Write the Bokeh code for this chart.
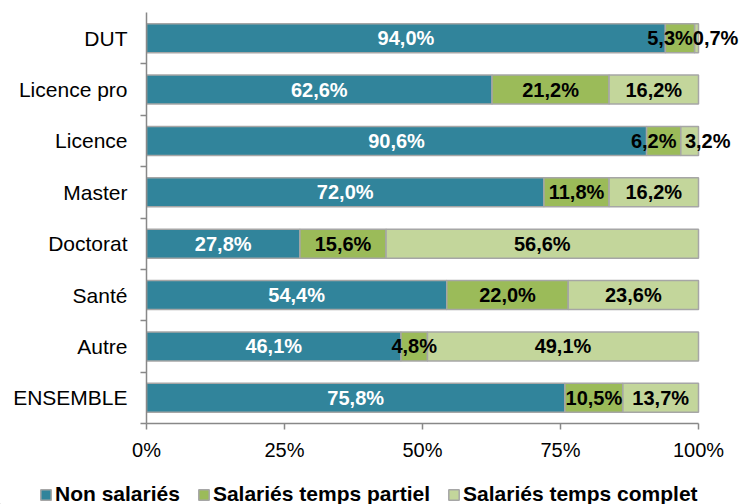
import numpy as np
from bokeh.plotting import figure
from bokeh.layouts import column
from bokeh.models import (ColumnDataSource, FixedTicker, LabelSet, Legend, LegendItem,
                          Range1d)
from bokeh.core.properties import value
from bokeh.embed import file_html
from bokeh.resources import INLINE

# ---- data ----
categories = ["DUT", "Licence pro", "Licence", "Master", "Doctorat", "Santé", "Autre", "ENSEMBLE"]
non_salaries = [94.0, 62.6, 90.6, 72.0, 27.8, 54.4, 46.1, 75.8]
sal_partiel = [5.3, 21.2, 6.2, 11.8, 15.6, 22.0, 4.8, 10.5]
sal_complet = [0.7, 16.2, 3.2, 16.2, 56.6, 23.6, 49.1, 13.7]
series_names = ["Non salariés", "Salariés temps partiel", "Salariés temps complet"]
x_ticks = [0, 25, 50, 75, 100]
x_tick_labels = ["0%", "25%", "50%", "75%", "100%"]

# ---- styles ----
colors = ["#31849B", "#9BBB59", "#C3D69B"]
label_colors = ["white", "black", "black"]
border = "#A6A6A6"
axis_col = "#888888"
FONT = "Liberation Sans"
# pixel nudges for labels that would overlap (per series, per category)
label_dx = [
    [0, 0, 0, 0, 0, 0, 0, 0],
    [-10, 0, -10, 0, 0, 0, 0, 0],
    [19, 0, 18, 0, 0, 0, 0, 0],
]

W = 744
MAIN_H, LEG_H = 470, 34
FRAME_L, FRAME_T, FRAME_B = 146, 12, 423
PX_PER_PCT = (698 - FRAME_L) / 100.0
x_max = (W - FRAME_L) / PX_PER_PCT   # frame runs to the right edge so labels are not clipped

n = len(categories)
ypos = [n - 1 - i + 0.5 for i in range(n)]
series = [non_salaries, sal_partiel, sal_complet]

p = figure(width=W, height=MAIN_H, output_backend="svg", toolbar_location=None,
           x_range=Range1d(0, x_max), y_range=Range1d(0, n),
           min_border_left=FRAME_L, min_border_right=0, min_border_top=FRAME_T,
           min_border_bottom=MAIN_H - FRAME_B)
p.outline_line_color = None
p.grid.grid_line_color = None
p.frame_align = False

left = np.zeros(n)
for k, vals in enumerate(series):
    vals = np.array(vals)
    right = left + vals
    src = ColumnDataSource(dict(
        y=ypos, left=left, right=right, mid=(left + right) / 2,
        txt=[f"{v:.1f}".replace(".", ",") + "%" for v in vals],
        dx=label_dx[k],
    ))
    p.hbar(y="y", left="left", right="right", height=0.565, source=src,
           fill_color=colors[k], line_color=border, line_width=1.5)
    lab = LabelSet(x="mid", y="y", text="txt", source=src, x_offset="dx",
                   text_align="center", text_baseline="middle",
                   text_font=value(FONT), text_font_size=value("20px"),
                   text_font_style=value("bold"),
                   text_color=value(label_colors[k]))
    p.add_layout(lab)
    left = right

# x axis
xa = p.xaxis[0]
xa.bounds = (0, 100)
xa.ticker = FixedTicker(ticks=x_ticks, minor_ticks=[])
xa.major_label_overrides = {t: l for t, l in zip(x_ticks, x_tick_labels)}
xa.axis_line_color = axis_col
xa.axis_line_width = 1.5
xa.major_tick_line_color = axis_col
xa.major_tick_line_width = 1.5
xa.major_tick_out = 6
xa.major_tick_in = 0
xa.minor_tick_line_color = None
xa.major_label_text_font = FONT
xa.major_label_text_font_size = "20px"
xa.major_label_text_color = "black"
xa.major_label_standoff = 9

# y axis: labels at centres, tick marks at category boundaries
ya = p.yaxis[0]
ya.bounds = (0, n)
ya.ticker = FixedTicker(ticks=ypos, minor_ticks=list(range(0, n)))
ya.major_label_overrides = {y: c for y, c in zip(ypos, categories)}
ya.axis_line_color = axis_col
ya.axis_line_width = 1.5
ya.major_tick_line_color = None
ya.major_tick_out = 6
ya.major_tick_in = 0
ya.minor_tick_line_color = axis_col
ya.minor_tick_line_width = 1.5
ya.minor_tick_out = 6
ya.minor_tick_in = 0
ya.major_label_text_font = FONT
ya.major_label_text_font_size = "21px"
ya.major_label_text_color = "black"
ya.major_label_standoff = 13

# legend strip (its swatch renderers hold one point outside the visible range)
lf = figure(width=W, height=LEG_H, output_backend="svg", toolbar_location=None,
            x_range=Range1d(0, 1), y_range=Range1d(0, 1),
            min_border_left=0, min_border_right=0, min_border_top=0, min_border_bottom=0)
lf.frame_align = False
lf.axis.visible = False
lf.grid.grid_line_color = None
lf.outline_line_color = None
leg_r = [lf.hbar(y=[-5], left=[-5], right=[-4], height=0.5, fill_color=colors[k],
                 line_color=border, line_width=1.5) for k in range(3)]
legend = Legend(items=[LegendItem(label=series_names[k], renderers=[leg_r[k]]) for k in range(3)],
                orientation="horizontal", location=(39, -2),
                padding=0, margin=0, spacing=17, label_standoff=3,
                glyph_width=13, glyph_height=13, label_height=20,
                border_line_color=None, background_fill_alpha=0,
                label_text_font=FONT, label_text_font_size="21px",
                label_text_font_style="bold", label_text_color="black")
lf.add_layout(legend, "center")

open("out.html", "w").write(file_html(column(p, lf, spacing=0), INLINE))
